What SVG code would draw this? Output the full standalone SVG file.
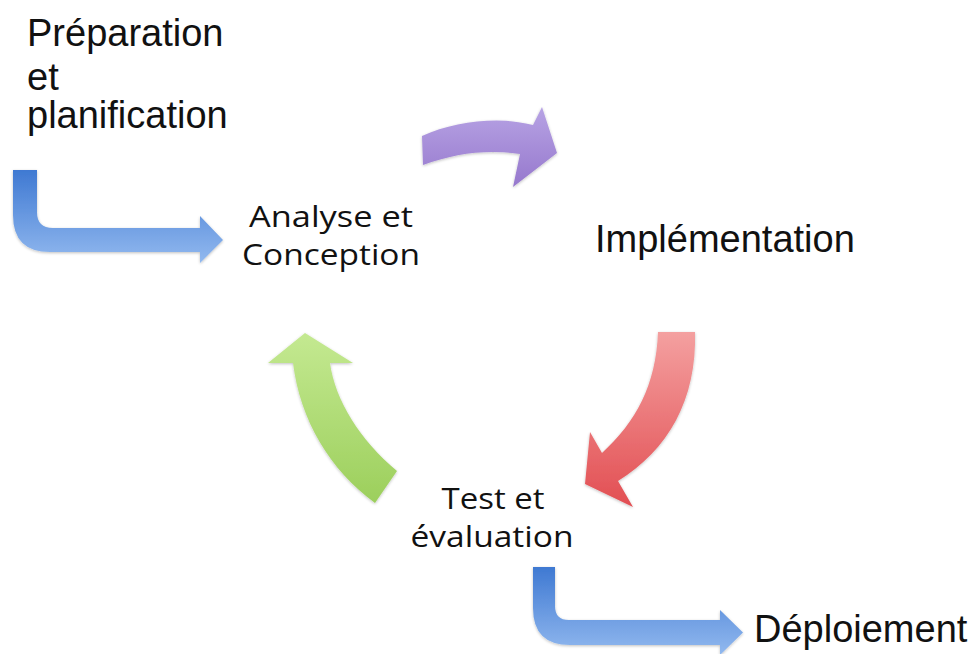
<svg xmlns="http://www.w3.org/2000/svg" width="977" height="654" viewBox="0 0 977 654">
  <defs>
    <linearGradient id="gBlue" x1="0" y1="0" x2="0" y2="1">
      <stop offset="0" stop-color="#3f79d2"/>
      <stop offset="1" stop-color="#92b9ef"/>
    </linearGradient>
    <linearGradient id="gPurple" x1="0" y1="0" x2="0" y2="1">
      <stop offset="0" stop-color="#b7a3e4"/>
      <stop offset="1" stop-color="#9678cd"/>
    </linearGradient>
    <linearGradient id="gRed" x1="0" y1="0" x2="0" y2="1">
      <stop offset="0" stop-color="#f4a0a0"/>
      <stop offset="1" stop-color="#e24e52"/>
    </linearGradient>
    <linearGradient id="gGreen" x1="0" y1="0" x2="0" y2="1">
      <stop offset="0" stop-color="#c4e991"/>
      <stop offset="1" stop-color="#9ccf5c"/>
    </linearGradient>
    <filter id="soft" x="-10%" y="-10%" width="120%" height="120%">
      <feGaussianBlur in="SourceAlpha" stdDeviation="1.5"/>
      <feOffset dx="0" dy="1" result="b"/>
      <feComponentTransfer><feFuncA type="linear" slope="0.25"/></feComponentTransfer>
      <feMerge><feMergeNode/><feMergeNode in="SourceGraphic"/></feMerge>
    </filter>
  </defs>
  <style>
    .big { font-family: "Liberation Sans", Arial, sans-serif; font-size: 38px; fill: #111; }
    .cal { font-family: "Open Sans", "Noto Sans", sans-serif; font-size: 30px; fill: #111; text-anchor: middle; }
    .arrow { filter: url(#soft); }
  </style>
  <rect width="977" height="654" fill="#ffffff"/>

  <g id="connectors">
    <path id="arrow-prep" class="arrow" fill="url(#gBlue)" d="M13,170 L37,170 L37,212 Q37,228 53,228 L200,228 L200,216 L223,240 L200,263 L200,252 L50,252 Q13,252 13,215 Z"/>
    <path id="arrow-impl" class="arrow" fill="url(#gPurple)" d="M422,136 C455,121 500,116 533,125 L542,107 L557,153 L513,187 L520,154 C488,149 455,153 423,165 Z"/>
    <path id="arrow-test" class="arrow" fill="url(#gRed)" d="M658,332 L695,332 C697,400 668,450 618,481 L633,507 L585,484 L590,432 L602,453 C636,422 656,385 658,332 Z"/>
    <path id="arrow-analyse" class="arrow" fill="url(#gGreen)" d="M305,333 L353,363 L330,363 C335,400 360,440 397,471 L375,503 C330,470 300,420 293,363 L268,363 Z"/>
    <path id="arrow-deploy" class="arrow" fill="url(#gBlue)" d="M533,567 L555,567 L555,606 Q555,620 569,620 L720,620 L720,610 L743,632.5 L720,655 L720,645 L570,645 Q533,645 533,608 Z"/>
  </g>

  <g id="node-preparation">
    <text class="big" x="27" y="46">Préparation</text>
    <text class="big" x="27" y="90">et</text>
    <text class="big" x="27" y="128">planification</text>
  </g>
  <g id="node-analyse">
    <text class="cal" x="331" y="227" textLength="164" lengthAdjust="spacingAndGlyphs">Analyse et</text>
    <text class="cal" x="331" y="265" textLength="178" lengthAdjust="spacingAndGlyphs">Conception</text>
  </g>
  <g id="node-implementation">
    <text class="big" x="595" y="252">Implémentation</text>
  </g>
  <g id="node-test">
    <text class="cal" x="493" y="509" textLength="103" lengthAdjust="spacingAndGlyphs">Test et</text>
    <text class="cal" x="492" y="547" textLength="163" lengthAdjust="spacingAndGlyphs">évaluation</text>
  </g>
  <g id="node-deploiement">
    <text class="big" x="754" y="642">Déploiement</text>
  </g>
</svg>
